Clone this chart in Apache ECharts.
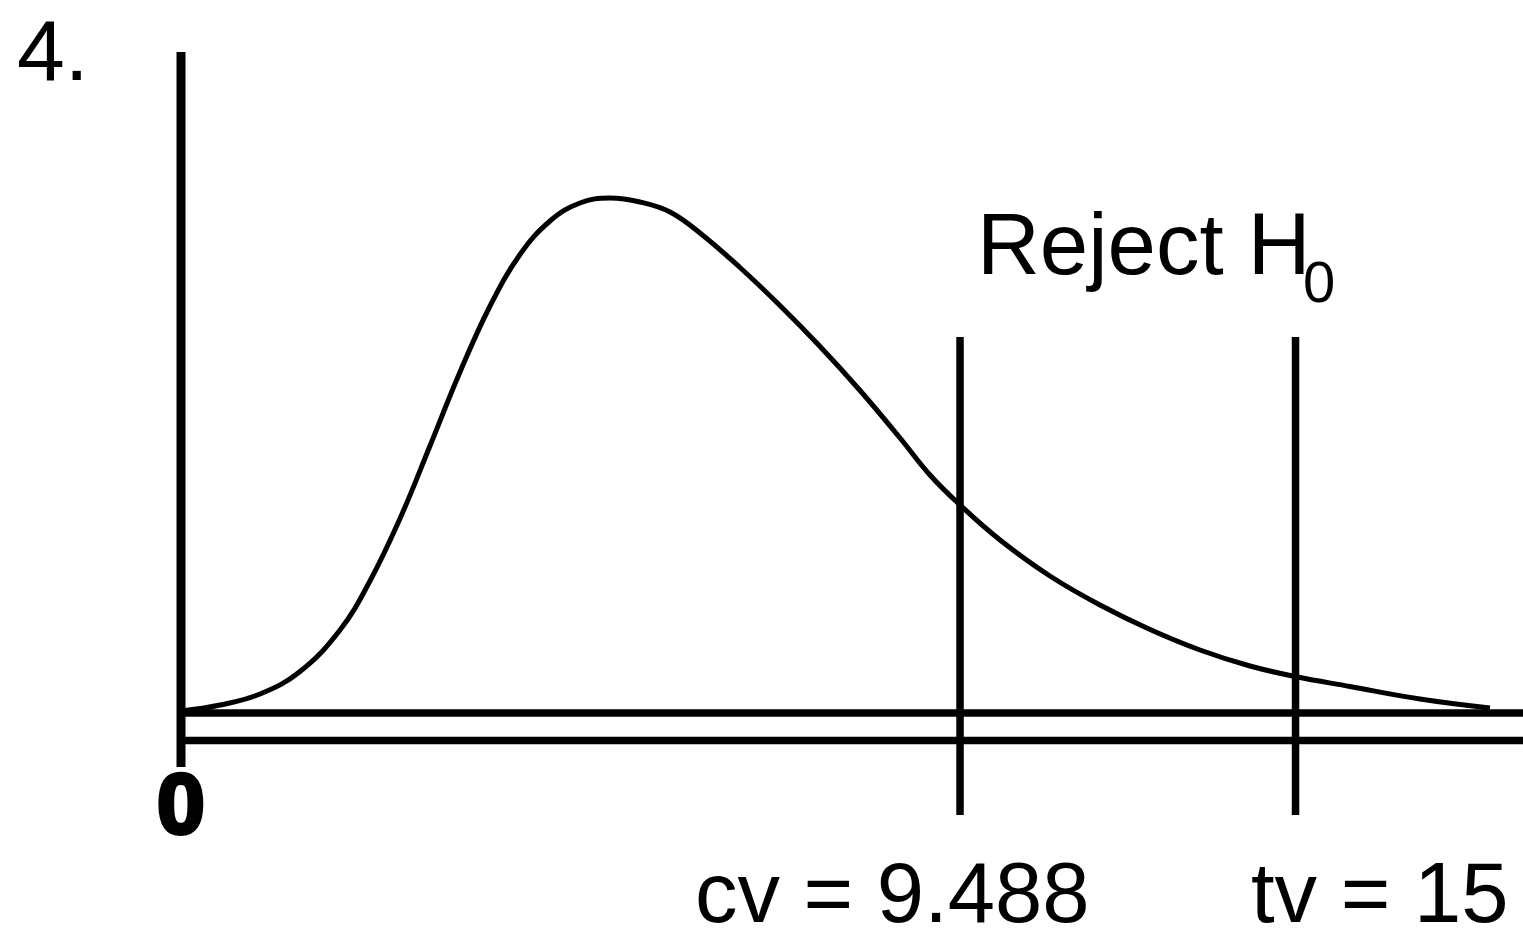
<!DOCTYPE html>
<html>
<head>
<meta charset="utf-8">
<script src="https://cdn.jsdelivr.net/npm/echarts@6/dist/echarts.min.js"></script>
<style>
  html, body { margin: 0; padding: 0; background: #fff; }
  #chart { width: 1523px; height: 936px; }
</style>
</head>
<body>
<div id="chart"></div>
<script>
// Sketch units: x runs 0..100 along the horizontal axis, y is curve height.
const curveX = [0, 2.91, 5.89, 8.87, 11.85, 14.08, 16.32, 18.55, 20.79, 23.03, 25.26, 27.50, 29.73, 31.97,
  34.20, 36.44, 38.67, 41.65, 44.63, 47.62, 50.60, 53.58, 55.81, 58.05, 61.03, 64.75, 68.48, 72.21,
  75.93, 79.66, 83.01, 87.11, 92.32, 97.54];
const curveY = [0.4, 1.6, 3.8, 8.3, 16.6, 26.4, 38.9, 53.4, 68.2, 81.4, 91.7, 98.4, 102.0, 103.0,
  102.2, 100.2, 96.0, 89.1, 81.5, 73.3, 64.5, 55.0, 47.6, 41.6, 34.6, 27.4, 21.6, 16.7,
  12.6, 9.4, 7.3, 5.3, 2.8, 1.0];
const critPositions = [58.05, 83.05];          // cv and tv markers along the axis
const critLabels = ['cv = 9.488', 'tv = 15'];
const baseLevels = [0, -5.5];                  // the two horizontal axis lines
const axisExtent = [-10.8, 132.2];             // vertical axis span
const critExtent = [-20.4, 75.2];              // marker line span
const xRange = [0, 100];
const yRange = [-20.4, 132.2];

const FONT = '"Liberation Sans", Arial, Helvetica, sans-serif';
const chart = echarts.init(document.getElementById('chart'), null, { renderer: 'canvas' });

const lineSeries = (name, data, width) => ({
  name, type: 'line', data, symbol: 'none', clip: false, silent: true,
  lineStyle: { color: '#000', width, cap: 'butt' }, z: 3
});

const series = [];
series.push(Object.assign(lineSeries('curve', curveX.map((x, i) => [x, curveY[i]]), 5), { smooth: 0.4 }));
baseLevels.forEach((lv, i) => series.push(lineSeries('base' + i, [[xRange[0], lv], [xRange[1], lv]], 7.5)));
series.push(lineSeries('yaxis', [[0, axisExtent[0]], [0, axisExtent[1]]], 9));
critPositions.forEach((p, i) => series.push(lineSeries('crit' + i, [[p, critExtent[0]], [p, critExtent[1]]], 7.5)));

const txt = (text, x, y, size, align, weight, border) => ({
  type: 'text', x, y, silent: true,
  style: Object.assign({ text, font: (weight || 'normal') + ' ' + size + 'px ' + FONT, fill: '#000',
    align: align || 'left', verticalAlign: 'middle' },
    border ? { stroke: '#000', lineWidth: border } : {})
});

chart.setOption({
  animation: false,
  backgroundColor: '#fff',
  grid: { left: 181, right: 0, top: 52, bottom: 121, containLabel: false },
  xAxis: { type: 'value', min: xRange[0], max: xRange[1], show: false },
  yAxis: { type: 'value', min: yRange[0], max: yRange[1], show: false },
  series,
  graphic: [
    txt('4.', 17, 56, 86),
    txt('Reject H', 977, 250, 87),
    txt('0', 1303, 286, 58),
    txt(critLabels[0], 695, 899, 85),
    txt(critLabels[1], 1251, 899, 85),
    txt('0', 181, 809, 86, 'center', 'bold', 4)
  ]
});
</script>
</body>
</html>
